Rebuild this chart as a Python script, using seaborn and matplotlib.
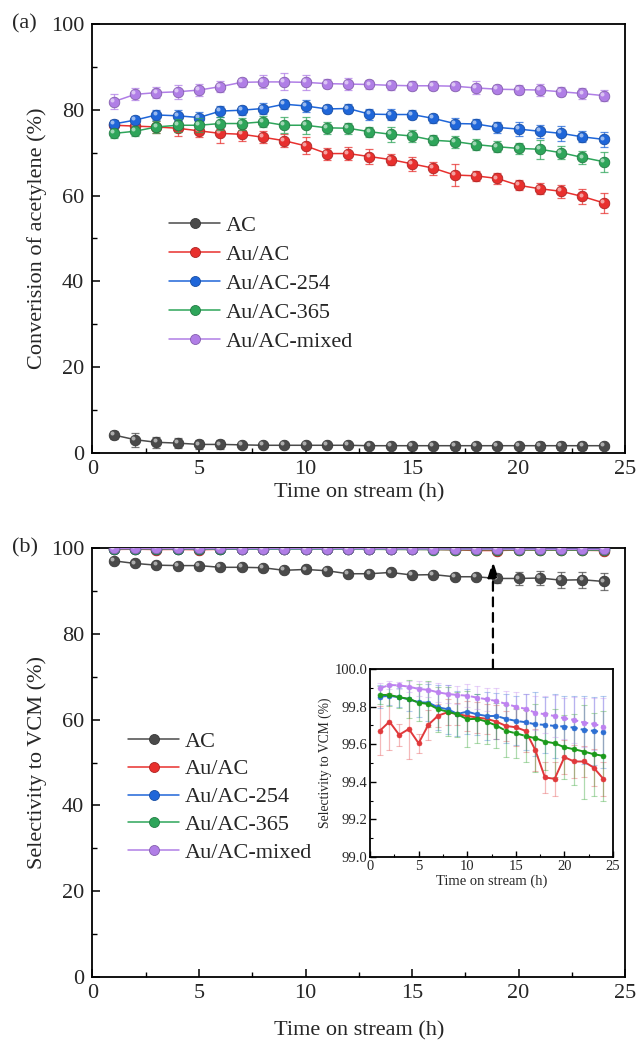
import numpy as np
import pandas as pd
import matplotlib
matplotlib.use("Agg")
import matplotlib.pyplot as plt
import matplotlib.transforms as mtrans
from matplotlib.lines import Line2D
import seaborn as sns

# ---------------- data ----------------
hours = list(range(1, 25))
labels = ["AC", "Au/AC", "Au/AC-254", "Au/AC-365", "Au/AC-mixed"]

conv_AC = [4.2, 3.1, 2.5, 2.3, 2.0, 2.0, 1.9, 1.8, 1.8, 1.8, 1.8, 1.8, 1.7, 1.7, 1.7, 1.7, 1.7, 1.7, 1.7, 1.7, 1.7, 1.7, 1.7, 1.7]
conv_AC_err = [1.0, 1.6, 1.3, 1.1, 1.1, 1.0, 0.5, 0.5, 0.5, 0.5, 0.5, 0.5, 0.5, 0.5, 0.5, 0.5, 0.9, 0.5, 0.5, 0.5, 0.9, 0.9, 0.9, 0.5]
conv_Au = [76.4, 76.2, 76.0, 75.7, 75.1, 74.5, 74.3, 73.6, 72.8, 71.6, 69.8, 69.8, 69.1, 68.4, 67.4, 66.4, 64.8, 64.6, 64.0, 62.4, 61.6, 61.0, 59.8, 58.3]
conv_Au_err = [1.2, 1.0, 1.5, 1.8, 1.5, 2.3, 1.5, 1.4, 1.5, 2.0, 1.4, 1.5, 1.8, 1.3, 1.6, 1.5, 2.5, 1.2, 1.3, 1.2, 1.3, 1.5, 1.7, 2.4]
conv_254 = [76.7, 77.6, 78.8, 78.6, 78.2, 79.7, 79.9, 80.3, 81.3, 80.9, 80.2, 80.3, 79.0, 78.9, 78.9, 78.0, 76.8, 76.7, 75.9, 75.5, 75.0, 74.5, 73.7, 73.1]
conv_254_err = [1.0, 1.0, 1.2, 1.3, 1.2, 1.3, 1.0, 1.2, 1.0, 1.4, 1.0, 1.0, 1.3, 1.2, 1.0, 1.1, 1.3, 1.2, 1.3, 1.7, 1.5, 1.8, 1.3, 1.8]
conv_365 = [74.5, 75.0, 76.0, 76.4, 76.4, 76.8, 76.8, 77.2, 76.4, 76.4, 75.8, 75.7, 74.9, 74.3, 73.9, 72.9, 72.6, 71.9, 71.4, 71.0, 70.8, 70.0, 68.9, 67.9]
conv_365_err = [1.0, 1.2, 1.3, 1.5, 1.6, 1.5, 1.4, 1.3, 1.9, 2.0, 1.4, 1.3, 1.2, 1.8, 1.4, 1.2, 1.4, 1.3, 1.3, 1.3, 2.2, 1.5, 1.6, 2.3]
conv_mix = [81.9, 83.6, 84.0, 84.2, 84.6, 85.4, 86.4, 86.5, 86.5, 86.4, 86.1, 86.0, 85.9, 85.7, 85.6, 85.6, 85.5, 85.1, 84.8, 84.7, 84.6, 84.2, 83.8, 83.3]
conv_mix_err = [1.8, 1.4, 1.3, 1.6, 1.4, 1.3, 1.0, 1.5, 2.0, 1.8, 1.0, 1.4, 1.0, 1.0, 1.0, 1.1, 1.0, 1.5, 1.0, 1.0, 1.3, 1.0, 1.3, 1.2]

sel_AC = [97.0, 96.4, 96.0, 95.9, 95.9, 95.5, 95.5, 95.4, 94.8, 95.0, 94.7, 94.0, 94.0, 94.3, 93.7, 93.8, 93.3, 93.3, 92.9, 92.9, 93.0, 92.5, 92.6, 92.2]
sel_AC_err = [0.3, 0.3, 0.3, 0.3, 0.3, 0.3, 0.3, 0.3, 0.3, 0.3, 0.3, 0.3, 0.3, 0.3, 0.3, 0.3, 0.3, 0.3, 1.0, 1.6, 1.6, 1.9, 1.9, 1.9]
sel_Au = [99.671, 99.720, 99.650, 99.681, 99.605, 99.703, 99.752, 99.770, 99.760, 99.750, 99.742, 99.735, 99.720, 99.697, 99.690, 99.671, 99.570, 99.423, 99.416, 99.531, 99.508, 99.508, 99.476, 99.416]
sel_Au_err = [0.13, 0.15, 0.06, 0.16, 0.05, 0.08, 0.06, 0.07, 0.06, 0.08, 0.08, 0.08, 0.09, 0.08, 0.10, 0.11, 0.11, 0.08, 0.09, 0.09, 0.09, 0.08, 0.10, 0.09]
sel_254 = [99.853, 99.857, 99.850, 99.839, 99.823, 99.821, 99.796, 99.786, 99.761, 99.773, 99.759, 99.750, 99.750, 99.735, 99.724, 99.717, 99.706, 99.703, 99.697, 99.694, 99.688, 99.676, 99.671, 99.664]
sel_254_err = [0.06, 0.05, 0.05, 0.06, 0.08, 0.10, 0.12, 0.13, 0.12, 0.12, 0.11, 0.13, 0.12, 0.13, 0.13, 0.15, 0.17, 0.15, 0.17, 0.16, 0.17, 0.18, 0.18, 0.19]
sel_365 = [99.862, 99.862, 99.850, 99.841, 99.821, 99.814, 99.786, 99.773, 99.759, 99.733, 99.735, 99.720, 99.699, 99.671, 99.658, 99.644, 99.632, 99.614, 99.605, 99.584, 99.573, 99.561, 99.547, 99.538]
sel_365_err = [0.05, 0.06, 0.06, 0.10, 0.10, 0.12, 0.12, 0.13, 0.12, 0.15, 0.13, 0.12, 0.12, 0.14, 0.13, 0.14, 0.18, 0.15, 0.18, 0.17, 0.19, 0.25, 0.22, 0.24]
sel_mix = [99.897, 99.915, 99.913, 99.906, 99.894, 99.889, 99.876, 99.867, 99.862, 99.858, 99.848, 99.839, 99.830, 99.814, 99.800, 99.788, 99.768, 99.759, 99.750, 99.738, 99.729, 99.715, 99.708, 99.694]
sel_mix_err = [0.03, 0.02, 0.02, 0.03, 0.04, 0.04, 0.05, 0.05, 0.05, 0.06, 0.06, 0.06, 0.07, 0.07, 0.08, 0.08, 0.09, 0.10, 0.11, 0.11, 0.12, 0.13, 0.14, 0.15]

colors = ["#4a4a4a", "#e8302e", "#1f66d9", "#2ea55a", "#b07ee6"]
inset_colors = ["#4a4a4a", "#e0393b", "#2d6fd2", "#1b9a1b", "#be82f0"]

conv = [conv_AC, conv_Au, conv_254, conv_365, conv_mix]
conv_err = [conv_AC_err, conv_Au_err, conv_254_err, conv_365_err, conv_mix_err]
sel = [sel_AC, sel_Au, sel_254, sel_365, sel_mix]
sel_err = [sel_AC_err, sel_Au_err, sel_254_err, sel_365_err, sel_mix_err]

# ---------------- style ----------------
sns.set_theme(style="ticks")
plt.rcParams["font.family"] = ["Liberation Serif", "DejaVu Serif"]
FS = 16

fig = plt.figure(figsize=(6.42, 10.48), dpi=100)
W, H = 642, 1048
def rect(l, t, r, b):
    return [l / W, 1 - b / H, (r - l) / W, (b - t) / H]

ax_a = fig.add_axes(rect(92.5, 24, 625, 453))
ax_b = fig.add_axes(rect(92.5, 548, 625, 977))
ax_in = fig.add_axes(rect(370, 669, 613, 857))


def darker(c, f=0.6):
    r, g, b = matplotlib.colors.to_rgb(c)
    return (r * f, g * f, b * f)


def draw_series(ax, ys, errs, cols, ms, lw, err_alpha, capsize, elw, zbase=2):
    for i, (lab, y, e, c) in enumerate(zip(labels, ys, errs, cols)):
        df = pd.DataFrame({"t": hours, "v": y})
        ax.errorbar(hours, y, yerr=e, fmt="none", ecolor=c, alpha=err_alpha,
                    elinewidth=elw, capsize=capsize, capthick=elw, zorder=zbase + 2 * i)
        sns.lineplot(data=df, x="t", y="v", ax=ax, color=c, marker="o",
                     markersize=ms, markeredgecolor=darker(c, 0.75), markeredgewidth=0.6,
                     linewidth=lw, legend=False, zorder=zbase + 2 * i + 1)
        tr = mtrans.offset_copy(ax.transData, fig=fig, x=-ms * 0.18, y=ms * 0.18, units="points")
        ax.plot(hours, y, "o", ms=ms * 0.38, color="white", alpha=0.55,
                markeredgewidth=0, transform=tr, zorder=zbase + 2 * i + 1.5)


for ax, ys, errs in [(ax_a, conv, conv_err), (ax_b, sel, sel_err)]:
    draw_series(ax, ys, errs, colors, ms=7.6, lw=1.1,
                err_alpha=0.75, capsize=3.2, elw=0.9)
    ax.set_xlim(0, 25)
    ax.set_ylim(0, 100)
    ax.set_xticks([0, 5, 10, 15, 20, 25])
    ax.set_xticks(np.arange(2.5, 25, 5), minor=True)
    ax.set_yticks([0, 20, 40, 60, 80, 100])
    ax.set_yticks([10, 30, 50, 70, 90], minor=True)
    ax.tick_params(axis="both", which="major", direction="in", length=6, width=1.1,
                   labelsize=FS, pad=6, top=False, right=False, color="black")
    ax.tick_params(axis="both", which="minor", direction="in", length=3.5, width=1.0,
                   top=False, right=False, color="black")
    ax.tick_params(axis="x", pad=5)
    for s in ax.spines.values():
        s.set_linewidth(1.3)
        s.set_color("black")

ax_a.set_xlabel("Time on stream (h)", fontsize=FS, labelpad=3)
ax_b.set_xlabel("Time on stream (h)", fontsize=FS, labelpad=13)
ax_a.set_ylabel("Converision of acetylene (%)", fontsize=FS, labelpad=3)
ax_b.set_ylabel("Selectivity to VCM (%)", fontsize=FS, labelpad=3)


def legend_handles():
    hs = []
    for c in colors:
        hs.append(Line2D([0], [0], color=c, lw=1.1, marker="o", markersize=7.2,
                         markeredgecolor=darker(c, 0.75), markeredgewidth=0.6))
    return hs

ax_a.legend(legend_handles(), labels, loc="upper left", frameon=False,
            bbox_to_anchor=(169 / W, 1 - 215 / H), bbox_transform=fig.transFigure,
            fontsize=FS, handlelength=2.3, handletextpad=0.25, labelspacing=0.38,
            borderpad=0, borderaxespad=0)
ax_b.legend(legend_handles(), labels, loc="upper left", frameon=False,
            bbox_to_anchor=(128 / W, 1 - 731 / H), bbox_transform=fig.transFigure,
            fontsize=FS, handlelength=2.3, handletextpad=0.25, labelspacing=0.33,
            borderpad=0, borderaxespad=0)

# panel labels
fig.text(12 / W, 1 - 24 / H, "(a)", fontsize=FS, va="center", ha="left")
fig.text(12 / W, 1 - 548 / H, "(b)", fontsize=FS, va="center", ha="left")

# inset
styles = ["-", "--", "--", "--"]
for i, (y, e, c, ls) in enumerate(zip(sel[1:], sel_err[1:], inset_colors[1:], styles)):
    df = pd.DataFrame({"t": hours, "v": y})
    ax_in.errorbar(hours, y, yerr=e, fmt="none", ecolor=c, alpha=0.35,
                   elinewidth=0.9, capsize=2.0, capthick=0.8, zorder=2)
    sns.lineplot(data=df, x="t", y="v", ax=ax_in, color=c, marker="o",
                 markersize=3.6, markeredgecolor=c, markeredgewidth=0.4,
                 linewidth=1.4, linestyle=ls, legend=False, zorder=4 + i)

ax_in.set_xlim(0, 25)
ax_in.set_ylim(99.0, 100.0)
ax_in.set_xticks([0, 5, 10, 15, 20, 25])
ax_in.set_xticks(np.arange(2.5, 25, 5), minor=True)
ax_in.set_yticks([99.0, 99.2, 99.4, 99.6, 99.8, 100.0])
ax_in.set_yticks([99.1, 99.3, 99.5, 99.7, 99.9], minor=True)
ax_in.yaxis.set_major_formatter(matplotlib.ticker.FormatStrFormatter("%.1f"))
ax_in.tick_params(axis="both", which="major", direction="in", length=4, width=1.0,
                  labelsize=10.5, pad=2, top=False, right=False, color="black")
ax_in.tick_params(axis="both", which="minor", direction="in", length=2, width=0.8,
                  top=False, right=False, color="black")
for s in ax_in.spines.values():
    s.set_linewidth(1.3)
    s.set_color("black")
ax_in.set_xlabel("Time on stream (h)", fontsize=10.5, labelpad=1)
ax_in.set_ylabel("Selectivity to VCM (%)", fontsize=9.8, labelpad=2)

# dashed arrow from inset up to the curves
ax_b.annotate("", xy=(18.8, 97.0), xytext=(18.8, 71.9),
              arrowprops=dict(arrowstyle="-|>,head_length=0.7,head_width=0.22",
                              linestyle=(0, (4, 3)), color="black", lw=1.6,
                              shrinkA=0, shrinkB=0, mutation_scale=14),
              zorder=20)

fig.savefig("out.png", dpi=100)
